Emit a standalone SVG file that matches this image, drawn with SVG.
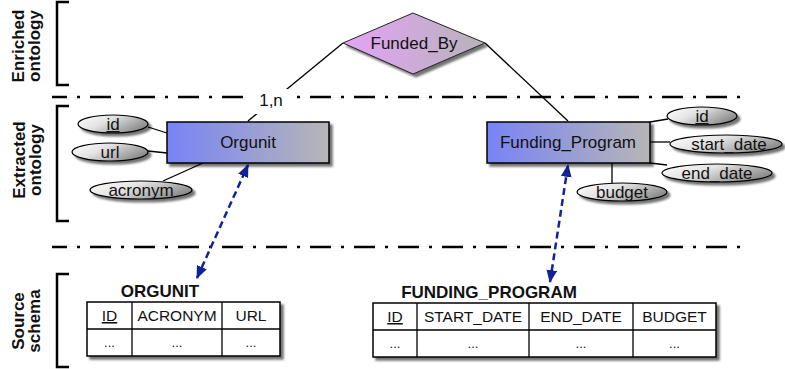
<svg xmlns="http://www.w3.org/2000/svg" width="785" height="369" viewBox="0 0 785 369">
<defs>
<linearGradient id="gEnt" x1="0" y1="0" x2="1" y2="0">
<stop offset="0" stop-color="#7883f6"/>
<stop offset="1" stop-color="#b6b6b6"/>
</linearGradient>
<linearGradient id="gRel" x1="0" y1="0" x2="1" y2="0">
<stop offset="0" stop-color="#e3a3f6"/>
<stop offset="1" stop-color="#b7b3ba"/>
</linearGradient>
<linearGradient id="gAtt" x1="0" y1="0" x2="1" y2="0.5">
<stop offset="0" stop-color="#ffffff"/>
<stop offset="0.45" stop-color="#e4e4e4"/>
<stop offset="1" stop-color="#8e8e8e"/>
</linearGradient>
<filter id="sh" x="-10%" y="-20%" width="130%" height="150%">
<feDropShadow dx="3" dy="3" stdDeviation="1.3" flood-color="#000" flood-opacity="0.55"/>
</filter>
<marker id="ah" viewBox="0 0 12 10" refX="11" refY="5" markerWidth="13" markerHeight="11" markerUnits="userSpaceOnUse" orient="auto-start-reverse">
<path d="M0,0 L12,5 L0,10 z" fill="#12239a"/>
</marker>
<style>
text{font-family:"Liberation Sans",Arial,sans-serif;fill:#111}
.lbl{font-size:17px;font-weight:bold;text-anchor:middle}
.nm{font-size:17px;text-anchor:middle}
.tb{font-size:15.5px;text-anchor:middle}
.dot{font-size:13px;text-anchor:middle}
.ttl{font-size:17px;font-weight:bold;text-anchor:middle}
.br{fill:none;stroke:#000;stroke-width:2.5}
.dd{fill:none;stroke:#000;stroke-width:2.5;stroke-dasharray:21 10 3 10;stroke-dashoffset:6}
.ln{stroke:#000;stroke-width:1.3;fill:none}
.ent{fill:url(#gEnt);stroke:#000;stroke-width:1.5;filter:url(#sh)}
.att{fill:url(#gAtt);stroke:#000;stroke-width:1.2;filter:url(#sh)}
.tab{fill:#fff;stroke:#000;stroke-width:1.5;filter:url(#sh)}
.map{stroke:#12239a;stroke-width:2.5;stroke-dasharray:7 4;fill:none;marker-start:url(#ah);marker-end:url(#ah)}
</style>
</defs>
<rect width="785" height="369" fill="#fff"/>

<g id="layers">
<path class="br" d="M69,2 H57 V85 H69"/>
<path class="br" d="M69,106 H57 V221 H69"/>
<path class="br" d="M69,274 H57 V367 H69"/>
<text class="lbl" transform="translate(24,46) rotate(-90)">Enriched</text>
<text class="lbl" transform="translate(40,46) rotate(-90)">ontology</text>
<text class="lbl" transform="translate(25,160) rotate(-90)">Extracted</text>
<text class="lbl" transform="translate(41,160) rotate(-90)">ontology</text>
<text class="lbl" transform="translate(24,321) rotate(-90)">Source</text>
<text class="lbl" transform="translate(40,321) rotate(-90)">schema</text>
<line class="dd" x1="52" y1="97" x2="748" y2="97"/>
<line class="dd" x1="52" y1="247" x2="748" y2="247"/>
</g>

<g id="connectors">
<line class="ln" x1="343" y1="43" x2="248" y2="121"/>
<line class="ln" x1="485" y1="43" x2="568" y2="121"/>
<line class="ln" x1="148" y1="127" x2="167" y2="133"/>
<line class="ln" x1="148" y1="151" x2="167" y2="153"/>
<line class="ln" x1="163" y1="181" x2="203" y2="163"/>
<line class="ln" x1="650" y1="122" x2="668" y2="119"/>
<line class="ln" x1="650" y1="142" x2="670" y2="142"/>
<line class="ln" x1="650" y1="163" x2="667" y2="165"/>
<line class="ln" x1="612" y1="163" x2="612" y2="184"/>
<rect x="250" y="89" width="42" height="25" fill="#fff"/>
<text class="nm" x="271" y="106">1,n</text>
<line class="map" x1="197" y1="278" x2="248" y2="165"/>
<line class="map" x1="550" y1="282" x2="568" y2="165"/>
</g>

<g id="funded_by">
<polygon points="343,43 413,13 485,43 413,74" fill="url(#gRel)" stroke="#222" stroke-width="1" filter="url(#sh)"/>
<text class="nm" x="414" y="49">Funded_By</text>
</g>

<g id="orgunit">
<rect class="ent" x="167" y="122" width="162" height="41"/>
<text class="nm" x="248" y="148">Orgunit</text>
</g>

<g id="funding_program">
<rect class="ent" x="487" y="122" width="163" height="41"/>
<text class="nm" x="568" y="148">Funding_Program</text>
</g>

<g id="org_id">
<ellipse class="att" cx="113" cy="124" rx="35" ry="9"/>
<text class="nm" x="113" y="130" text-decoration="underline">id</text>
</g>
<g id="org_url">
<ellipse class="att" cx="110" cy="152" rx="38" ry="9"/>
<text class="nm" x="110" y="158">url</text>
</g>
<g id="org_acronym">
<ellipse class="att" cx="141" cy="190" rx="51" ry="9"/>
<text class="nm" x="141" y="196">acronym</text>
</g>

<g id="fp_id">
<ellipse class="att" cx="702" cy="116" rx="35" ry="9"/>
<text class="nm" x="702" y="122" text-decoration="underline">id</text>
</g>
<g id="fp_start_date">
<ellipse class="att" cx="726" cy="144" rx="56" ry="9"/>
<text class="nm" x="729" y="150">start_date</text>
</g>
<g id="fp_end_date">
<ellipse class="att" cx="717" cy="173" rx="55" ry="9"/>
<text class="nm" x="717" y="179">end_date</text>
</g>
<g id="fp_budget">
<ellipse class="att" cx="622" cy="192" rx="45" ry="9"/>
<text class="nm" x="622" y="198">budget</text>
</g>

<g id="orgunit_table">
<text class="ttl" x="160" y="297">ORGUNIT</text>
<rect class="tab" x="87" y="302" width="193" height="54"/>
<g class="ln">
<line x1="87" y1="329" x2="280" y2="329"/>
<line x1="132" y1="302" x2="132" y2="356"/>
<line x1="222" y1="302" x2="222" y2="356"/>
</g>
<text class="tb" x="109.5" y="321" text-decoration="underline">ID</text>
<text class="tb" x="177" y="321">ACRONYM</text>
<text class="tb" x="251" y="321">URL</text>
<text class="dot" x="109.5" y="347">...</text>
<text class="dot" x="177" y="347">...</text>
<text class="dot" x="251" y="347">...</text>
</g>

<g id="funding_program_table">
<text class="ttl" x="489" y="298">FUNDING_PROGRAM</text>
<rect class="tab" x="373" y="303" width="343" height="54"/>
<g class="ln">
<line x1="373" y1="330" x2="716" y2="330"/>
<line x1="417" y1="303" x2="417" y2="357"/>
<line x1="529" y1="303" x2="529" y2="357"/>
<line x1="633" y1="303" x2="633" y2="357"/>
</g>
<text class="tb" x="395" y="322" text-decoration="underline">ID</text>
<text class="tb" x="473" y="322">START_DATE</text>
<text class="tb" x="581" y="322">END_DATE</text>
<text class="tb" x="674.5" y="322">BUDGET</text>
<text class="dot" x="395" y="348">...</text>
<text class="dot" x="473" y="348">...</text>
<text class="dot" x="581" y="348">...</text>
<text class="dot" x="674.5" y="348">...</text>
</g>
</svg>
